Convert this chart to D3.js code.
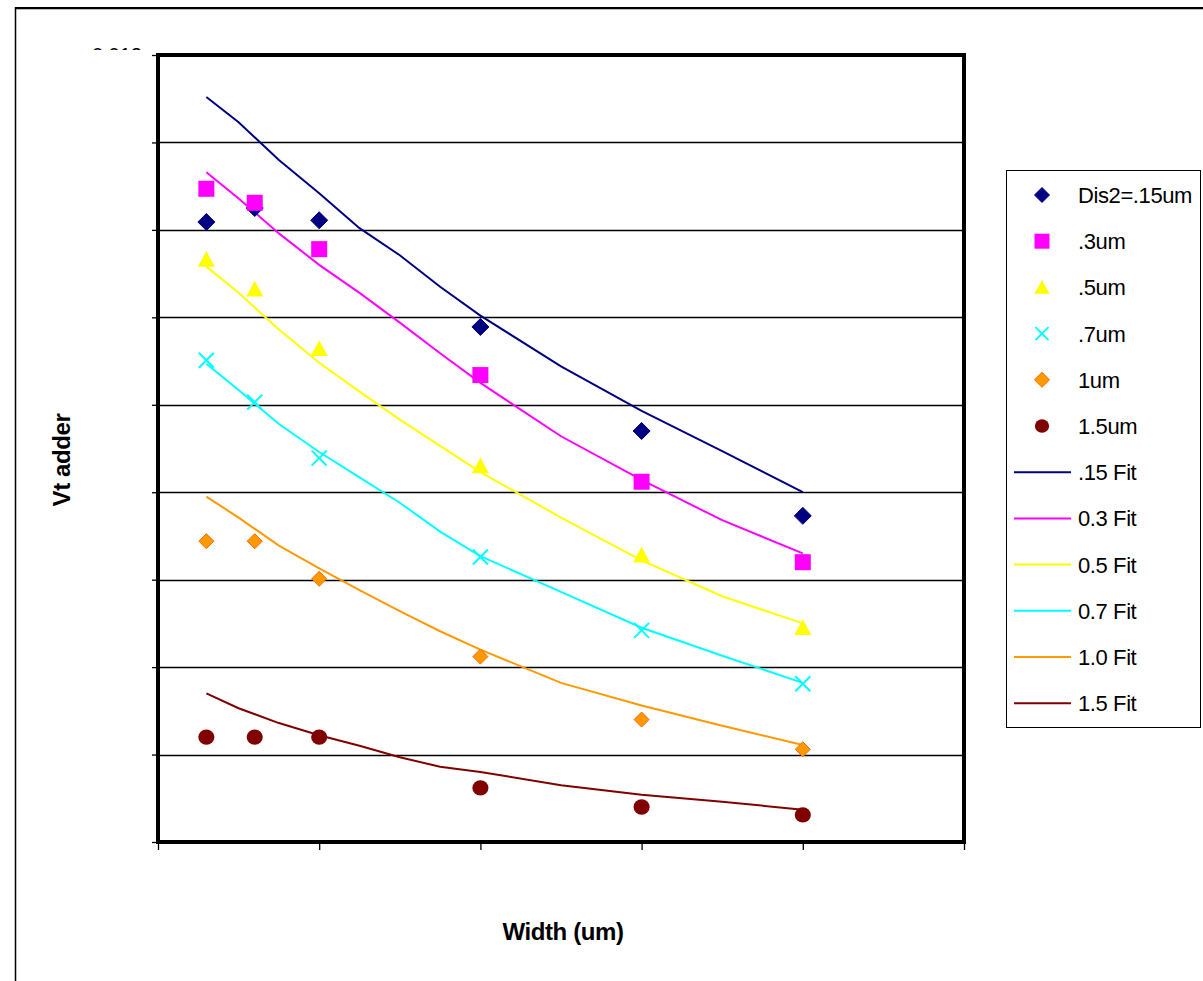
<!DOCTYPE html>
<html>
<head>
<meta charset="utf-8">
<script src="https://cdn.jsdelivr.net/npm/d3@7"></script>
<style>
  body { margin: 0; background: #fff; }
  svg { display: block; font-family: "Liberation Sans", Arial, sans-serif; }
</style>
</head>
<body>
<svg id="chart" width="1203" height="981"></svg>
<script>
// 测量点的宽度 (um)
const widths = [0.6, 1.2, 2, 4, 6, 8];
// 拟合曲线的宽度取样点
const fitWidths = [0.6, 1, 1.5, 2, 2.5, 3, 3.5, 4, 5, 6, 7, 8];

// 各 Dis2 的测量值
const dis015 = [0.01009, 0.01025, 0.01011, 0.00889, 0.00770, 0.00673];
const dis03  = [0.01047, 0.01031, 0.00978, 0.00834, 0.00712, 0.00620];
const dis05  = [0.00966, 0.00932, 0.00864, 0.00730, 0.00628, 0.00545];
const dis07  = [0.00851, 0.00803, 0.00739, 0.00626, 0.00542, 0.00481];
const dis10  = [0.00644, 0.00644, 0.00601, 0.00512, 0.00440, 0.00406];
const dis15  = [0.00420, 0.00420, 0.00420, 0.00362, 0.00340, 0.00331];

// 拟合曲线
const fit015 = [0.01152, 0.01123, 0.01080, 0.01042, 0.01002, 0.00971, 0.00935, 0.00902, 0.00844, 0.00793, 0.00747, 0.00700];
const fit03  = [0.01066, 0.01036, 0.00996, 0.00960, 0.00928, 0.00894, 0.00859, 0.00825, 0.00764, 0.00714, 0.00668, 0.00630];
const fit05  = [0.00958, 0.00928, 0.00886, 0.00848, 0.00815, 0.00783, 0.00753, 0.00723, 0.00671, 0.00622, 0.00581, 0.00550];
const fit07  = [0.00847, 0.00817, 0.00778, 0.00746, 0.00717, 0.00688, 0.00655, 0.00627, 0.00586, 0.00545, 0.00513, 0.00482];
const fit10  = [0.00695, 0.00671, 0.00639, 0.00613, 0.00588, 0.00564, 0.00541, 0.00520, 0.00482, 0.00456, 0.00433, 0.00411];
const fit15  = [0.00470, 0.00453, 0.00436, 0.00422, 0.00410, 0.00397, 0.00386, 0.00380, 0.00365, 0.00354, 0.00346, 0.00337];

const yTicks = [0.003, 0.004, 0.005, 0.006, 0.007, 0.008, 0.009, 0.010, 0.011, 0.012];
const yLabels = ["0.004", "0.005", "0.006", "0.007", "0.008", "0.009", "0.010", "0.011", "0.012"];
const xTicks = [0, 2, 4, 6, 8, 10];

const pointSeries = [
  { name: "Dis2=.15um", values: dis015, shape: "diamond", fill: "#000080", stroke: "#000080", size: 8.5 },
  { name: ".3um", values: dis03, shape: "square", fill: "#FF00FF", stroke: "#FF00FF", size: 8 },
  { name: ".5um", values: dis05, shape: "triangle", fill: "#FFFF00", stroke: "#FFFF00", size: 8.5 },
  { name: ".7um", values: dis07, shape: "cross", fill: "none", stroke: "#00FFFF", size: 7.5 },
  { name: "1um", values: dis10, shape: "diamond", fill: "#FF9900", stroke: "#FF6600", size: 7.5 },
  { name: "1.5um", values: dis15, shape: "circle", fill: "#800000", stroke: "#800000", size: 8.5 }
];
const fitSeries = [
  { name: ".15 Fit", values: fit015, color: "#000080" },
  { name: "0.3 Fit", values: fit03, color: "#FF00FF" },
  { name: "0.5 Fit", values: fit05, color: "#FFFF00" },
  { name: "0.7 Fit", values: fit07, color: "#00FFFF" },
  { name: "1.0 Fit", values: fit10, color: "#FF9900" },
  { name: "1.5 Fit", values: fit15, color: "#800000" }
];

const svg = d3.select("#chart");
const pLeft = 158, pRight = 964, pTop = 55, pBottom = 842;

const x = d3.scaleLinear().domain([0, 10]).range([pLeft, pRight]);
const y = d3.scaleLinear().domain([0.003, 0.012]).range([pBottom, pTop]);

// 外框
svg.append("line").attr("x1", 15).attr("x2", 1203).attr("y1", 8).attr("y2", 8)
  .attr("stroke", "#000").attr("stroke-width", 2);
svg.append("line").attr("x1", 15).attr("x2", 1203).attr("y1", 9.5).attr("y2", 9.5)
  .attr("stroke", "#bbb").attr("stroke-width", 1);
svg.append("line").attr("x1", 15.5).attr("x2", 15.5).attr("y1", 7).attr("y2", 981)
  .attr("stroke", "#000").attr("stroke-width", 1.5);

// 网格线
svg.append("g").selectAll("line").data(yTicks.slice(1, -1)).join("line")
  .attr("x1", pLeft).attr("x2", pRight)
  .attr("y1", d => Math.round(y(d)) + 0.5).attr("y2", d => Math.round(y(d)) + 0.5)
  .attr("stroke", "#000").attr("stroke-width", 1.3);

// y 轴刻度标签 (原图被遮住了大部分)
svg.append("defs").append("clipPath").attr("id", "lblclip")
  .call(c => {
    c.append("rect").attr("x", 0).attr("y", 0).attr("width", 200).attr("height", 50);
    c.append("rect").attr("x", 0).attr("y", 0).attr("width", 89).attr("height", 981);
  });
svg.append("g").attr("clip-path", "url(#lblclip)")
  .selectAll("text").data(yLabels).join("text")
  .attr("x", 142).attr("y", d => y(+d) + 7)
  .attr("text-anchor", "end").attr("font-size", 20).attr("fill", "#000")
  .text(d => d);

// y 轴
const yAxis = d3.axisLeft(y).tickValues(yTicks).tickSize(6).tickFormat("");
svg.append("g").attr("transform", `translate(${pLeft},0)`).call(yAxis)
  .call(g => g.select(".domain").remove())
  .call(g => g.selectAll("line").attr("stroke", "#000").attr("stroke-width", 1.3));

// x 轴
const xAxis = d3.axisBottom(x).tickValues(xTicks).tickSize(8).tickFormat("");
svg.append("g").attr("transform", `translate(0,${pBottom})`).call(xAxis)
  .call(g => g.select(".domain").remove())
  .call(g => g.selectAll("line").attr("stroke", "#000").attr("stroke-width", 1.3));

// 绘图区边框
svg.append("rect").attr("x", pLeft).attr("y", pTop)
  .attr("width", pRight - pLeft).attr("height", pBottom - pTop)
  .attr("fill", "none").attr("stroke", "#000").attr("stroke-width", 4);

// 拟合曲线
const line = d3.line().x((d, i) => x(fitWidths[i])).y(d => y(d));
svg.append("g").selectAll("path").data(fitSeries).join("path")
  .attr("d", d => line(d.values))
  .attr("fill", "none").attr("stroke", d => d.color).attr("stroke-width", 2);

// 标记符号
function drawMarker(g, s, cx, cy) {
  const r = s.size;
  if (s.shape === "diamond") {
    g.append("path").attr("d", `M${cx},${cy - r}L${cx + r},${cy}L${cx},${cy + r}L${cx - r},${cy}Z`)
      .attr("fill", s.fill).attr("stroke", s.stroke).attr("stroke-width", 1);
  } else if (s.shape === "square") {
    g.append("rect").attr("x", cx - r).attr("y", cy - r).attr("width", 2 * r).attr("height", 2 * r)
      .attr("fill", s.fill);
  } else if (s.shape === "triangle") {
    g.append("path").attr("d", `M${cx},${cy - r}L${cx + r},${cy + r * 0.85}L${cx - r},${cy + r * 0.85}Z`)
      .attr("fill", s.fill);
  } else if (s.shape === "cross") {
    g.append("path").attr("d", `M${cx - r},${cy - r}L${cx + r},${cy + r}M${cx + r},${cy - r}L${cx - r},${cy + r}`)
      .attr("stroke", s.stroke).attr("stroke-width", 2).attr("fill", "none");
  } else if (s.shape === "circle") {
    g.append("ellipse").attr("cx", cx).attr("cy", cy).attr("rx", r * 0.95).attr("ry", r * 0.9)
      .attr("fill", s.fill);
  }
}

const pts = svg.append("g");
pointSeries.forEach(s => {
  s.values.forEach((v, i) => drawMarker(pts, s, x(widths[i]), y(v)));
});

// 坐标轴标题
svg.append("text").attr("transform", "translate(70,460) rotate(-90)")
  .attr("text-anchor", "middle").attr("font-size", 24).attr("font-weight", "bold")
  .attr("letter-spacing", -0.4).text("Vt adder");
svg.append("text").attr("x", 563).attr("y", 940)
  .attr("text-anchor", "middle").attr("font-size", 24).attr("font-weight", "bold")
  .attr("letter-spacing", -0.4).text("Width (um)");

// 图例
const lg = svg.append("g");
lg.append("rect").attr("x", 1006.5).attr("y", 170.5).attr("width", 194).attr("height", 557)
  .attr("fill", "#fff").attr("stroke", "#000").attr("stroke-width", 1);
const rowY = i => 195 + i * 46.2;
pointSeries.forEach((s, i) => {
  const sc = Object.assign({}, s, { size: s.shape === "cross" ? 6.5 : 7.5 });
  drawMarker(lg, sc, 1042, rowY(i));
  lg.append("text").attr("x", 1078).attr("y", rowY(i) + 8)
    .attr("font-size", 22).attr("letter-spacing", -0.4).text(s.name);
});
fitSeries.forEach((s, i) => {
  const yy = rowY(i + 6);
  lg.append("line").attr("x1", 1014).attr("x2", 1071).attr("y1", yy).attr("y2", yy)
    .attr("stroke", s.color).attr("stroke-width", 2);
  lg.append("text").attr("x", 1078).attr("y", yy + 8)
    .attr("font-size", 22).attr("letter-spacing", -0.4).text(s.name);
});
</script>
</body>
</html>
